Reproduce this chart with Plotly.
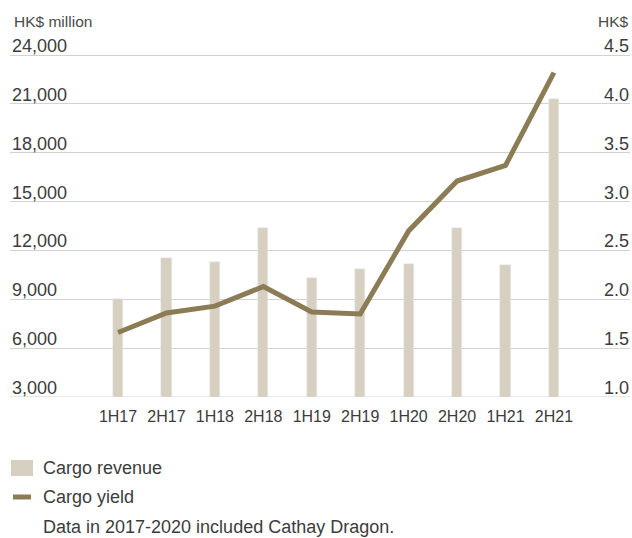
import plotly.graph_objects as go

categories = ["1H17", "2H17", "1H18", "2H18", "1H19", "2H19", "1H20", "2H20", "1H21", "2H21"]
cargo_revenue = [9000, 11550, 11300, 13400, 10320, 10870, 11180, 13400, 11120, 21290]
cargo_yield = [1.66, 1.86, 1.93, 2.13, 1.87, 1.85, 2.70, 3.21, 3.37, 4.32]
left_ticks = [3000, 6000, 9000, 12000, 15000, 18000, 21000, 24000]
right_ticks = [1.0, 1.5, 2.0, 2.5, 3.0, 3.5, 4.0, 4.5]

BAR = "#d7d0c1"
LINE = "#8c7c55"
TXT = "#3c3c3c"
GRID = "#d2d2d2"
FONT = "Liberation Sans, Arial, sans-serif"

W, H = 632, 538
# plot area in px: x 10..630 ; y 30..397 (24,000 gridline at y=55)
L, R = 10, 632 - 630
T, B = 30, 538 - 397
pw, ph = W - L - R, H - T - B
Y_BOT = 397
Y24 = 55
k = (24000 - 3000) / (Y_BOT - Y24)
y_top = 24000 + (Y24 - T) * k
k2 = (4.5 - 1.0) / (Y_BOT - Y24)
y2_top = 4.5 + (Y24 - T) * k2

def px(x):  # pixel x -> paper
    return (x - L) / pw

def py(y):  # pixel y -> paper
    return (Y_BOT - y) / ph

fig = go.Figure()
fig.add_trace(go.Bar(x=categories, y=cargo_revenue, marker_color=BAR, width=0.21,
                     name="Cargo revenue", yaxis="y"))
fig.add_trace(go.Scatter(x=categories, y=cargo_yield, mode="lines",
                         line=dict(color=LINE, width=5), name="Cargo yield", yaxis="y2"))

fig.update_layout(
    width=W, height=H, margin=dict(l=L, r=R, t=T, b=B, autoexpand=False),
    paper_bgcolor="white", plot_bgcolor="white",
    showlegend=False,
    font=dict(family=FONT, color=TXT, size=18),
    xaxis=dict(type="category", range=[-2.23, 10.57], showgrid=False, zeroline=False,
               ticks="outside", ticklen=5, tickcolor="rgba(0,0,0,0)", automargin=False,
               tickfont=dict(size=16, color=TXT)),
    yaxis=dict(range=[3000, y_top], tickvals=left_ticks, showticklabels=False, showgrid=True,
               gridcolor=GRID, gridwidth=1.2, zeroline=False, automargin=False),
    yaxis2=dict(range=[1.0, y2_top], tickvals=right_ticks, showticklabels=False,
                overlaying="y", side="right", showgrid=False, zeroline=False, automargin=False),
    bargap=0.0,
)

# bottom edge gridline (edge gridlines may be suppressed)
fig.add_shape(type="line", xref="paper", yref="y", x0=0, x1=1, y0=3000, y1=3000,
              line=dict(color=GRID, width=1.2), layer="below")

# tick labels sitting just above each gridline
for v in left_ticks:
    fig.add_annotation(xref="paper", yref="y", x=0, y=v, text=f"{v:,}", showarrow=False,
                       xanchor="left", yanchor="bottom", yshift=-3, font=dict(size=18, color=TXT))
for v in right_ticks:
    fig.add_annotation(xref="paper", yref="y2", x=1, y=v, text=f"{v:.1f}", showarrow=False,
                       xanchor="right", yanchor="bottom", yshift=-3, xshift=1,
                       font=dict(size=18, color=TXT))

annots = [
    dict(text="HK$ million", x=px(12), y=py(22), xanchor="left", yanchor="middle", font=dict(size=15.5, color="#4a4a4a")),
    dict(text="HK$", x=px(631), y=py(22), xanchor="right", yanchor="middle", font=dict(size=15.5, color="#4a4a4a")),
    dict(text="Cargo revenue", x=px(41), y=py(468), xanchor="left", yanchor="middle", font=dict(size=18, color=TXT)),
    dict(text="Cargo yield", x=px(41), y=py(497), xanchor="left", yanchor="middle", font=dict(size=18, color=TXT)),
    dict(text="Data in 2017-2020 included Cathay Dragon.", x=px(41), y=py(527), xanchor="left",
         yanchor="middle", font=dict(size=18, color=TXT)),
]
for a in annots:
    fig.add_annotation(xref="paper", yref="paper", showarrow=False, **a)

fig.add_shape(type="rect", xref="paper", yref="paper", x0=px(11), x1=px(33), y0=py(476), y1=py(460),
              fillcolor=BAR, line=dict(width=0))
fig.add_shape(type="line", xref="paper", yref="paper", x0=px(13), x1=px(31), y0=py(497), y1=py(497),
              line=dict(color=LINE, width=5))

fig.write_html("out.html", config={"displayModeBar": False},
               post_script="document.body.style.margin='0';document.body.style.overflow='hidden';")
